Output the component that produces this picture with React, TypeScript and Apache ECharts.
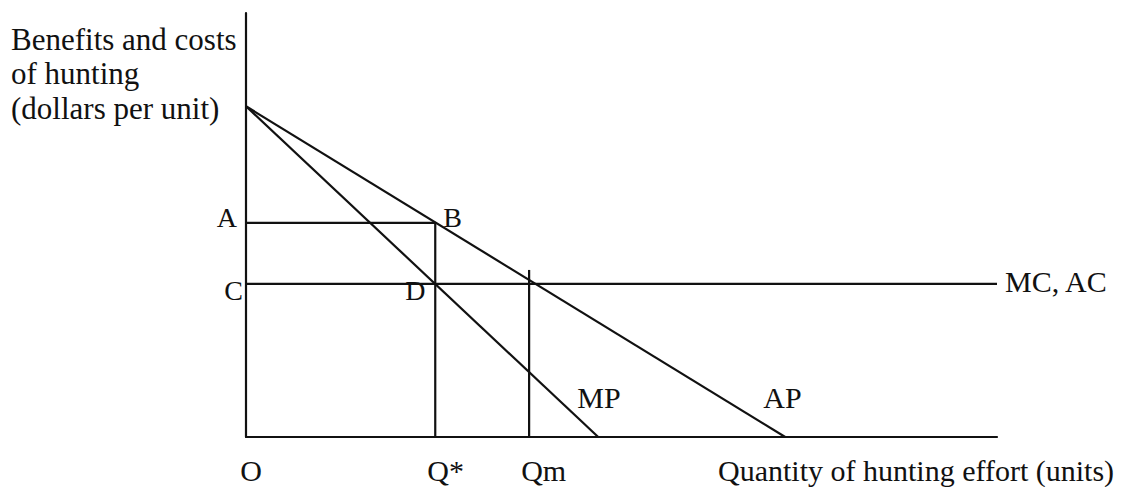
import React, { useEffect, useRef } from "react";
import * as echarts from "echarts";

// ---- data (units of the diagram) ----
const xRange = [0, 100];
const yRange = [0, 100];
const apLine = [[0, 78], [71.8, 0]];
const mpLine = [[0, 78], [46.9, 0]];
const costLine = [[0, 36.1], [100, 36.1]];
const qStarBox = [[0, 50.5], [25.2, 50.5], [25.2, 0]];
const qmLine = [[37.7, 39.4], [37.7, 0]];
const xTickValues = [0, 25.2, 37.7];
const xTickLabels = ["O", "Q*", "Qm"];
const yPointValues = [50.5, 36.1];
const yPointLabels = ["A", "C"];
const yTitleLines = ["Benefits and costs", "of hunting", "(dollars per unit)"];
const xTitle = "Quantity of hunting effort (units)";

const FONT = '"Liberation Serif", "Times New Roman", serif';
const INK = "#111";

export default function App() {
  const ref = useRef<HTMLDivElement>(null);
  useEffect(() => {
    if (!ref.current) return;
    const chart = echarts.init(ref.current, undefined, { renderer: "svg" });
    const lineSeries = (name: string, data: number[][]) => ({
      name,
      type: "line",
      data,
      symbol: "none",
      silent: true,
      lineStyle: { color: INK, width: 2.2 },
    });
    chart.setOption({
      animation: false,
      backgroundColor: "#fff",
      grid: { left: 246, right: 126, top: 13, bottom: 50 },
      xAxis: {
        type: "value",
        min: xRange[0],
        max: xRange[1],
        axisLine: { show: true, lineStyle: { color: INK, width: 2.2 } },
        axisTick: { show: false },
        axisLabel: { show: false },
        splitLine: { show: false },
      },
      yAxis: {
        type: "value",
        min: yRange[0],
        max: yRange[1],
        axisLine: { show: true, lineStyle: { color: INK, width: 2.2 } },
        axisTick: { show: false },
        axisLabel: { show: false },
        splitLine: { show: false },
      },
      series: [
        lineSeries("AP", apLine),
        lineSeries("MP", mpLine),
        lineSeries("MC, AC", costLine),
        lineSeries("QStar", qStarBox),
        lineSeries("Qm", qmLine),
      ],
    });

    const px = (p: number[]) => chart.convertToPixel({ gridIndex: 0 }, p) as number[];
    const txt = (text: string, x: number, y: number, size: number, align = "left") => ({
      type: "text",
      x,
      y,
      silent: true,
      style: {
        text,
        fill: INK,
        font: `${size}px ${FONT}`,
        textAlign: align,
        textVerticalAlign: "middle",
      },
    });

    const origin = px([0, 0]);
    const els: any[] = [];
    // y title
    yTitleLines.forEach((l, i) => els.push(txt(l, 11, 39 + i * 34.5, 31)));
    // x tick labels
    xTickValues.forEach((v, i) => {
      const p = px([v, 0]);
      if (i === 0) els.push(txt(xTickLabels[i], p[0] + 5, origin[1] + 33, 30, "center"));
      else els.push(txt(xTickLabels[i], p[0] - 8, origin[1] + 33, 30));
    });
    els.push(txt(xTitle, 718, origin[1] + 33, 30));
    // y point labels
    yPointValues.forEach((v, i) => {
      const p = px([0, v]);
      els.push(txt(yPointLabels[i], p[0] - (i === 0 ? 9 : 3), p[1] + (i === 0 ? -5 : 7), 28, "right"));
    });
    // B and D
    const b = px(qStarBox[1]);
    els.push(txt("B", b[0] + 8, b[1] - 5, 28));
    const d = px([qStarBox[1][0], costLine[0][1]]);
    els.push(txt("D", d[0] - 30, d[1] + 7, 28));
    // curve labels
    const mpEnd = px(mpLine[1]);
    els.push(txt("MP", mpEnd[0] - 21, mpEnd[1] - 40, 30));
    const apEnd = px(apLine[1]);
    els.push(txt("AP", apEnd[0] - 22, apEnd[1] - 40, 30));
    const mcEnd = px(costLine[1]);
    els.push(txt("MC, AC", mcEnd[0] + 8, mcEnd[1] - 2, 30));

    chart.setOption({ graphic: els });
    return () => chart.dispose();
  }, []);
  return (
    <div
      ref={ref}
      style={{ position: "absolute", left: 0, top: 0, width: 1123, height: 487, background: "#fff" }}
    />
  );
}
